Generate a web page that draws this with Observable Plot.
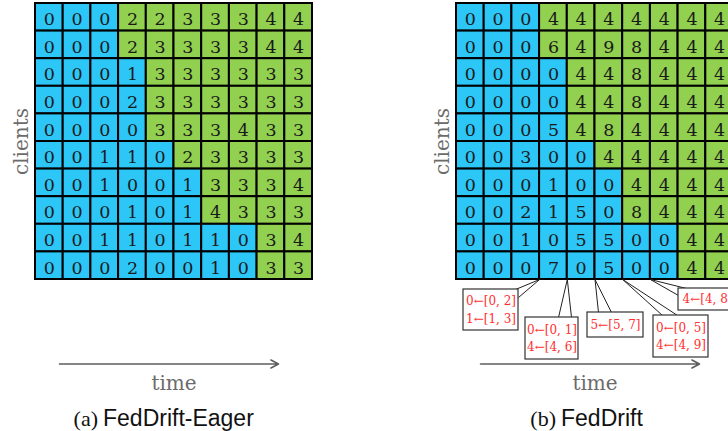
<!DOCTYPE html>
<html><head><meta charset="utf-8">
<script src="https://cdn.jsdelivr.net/npm/d3@7"></script>
<script src="https://cdn.jsdelivr.net/npm/@observablehq/plot@0.6"></script>
<style>
html,body{margin:0;padding:0;background:#fff;overflow:hidden;width:728px;height:431px}
#chart svg{overflow:hidden;display:block}
</style></head><body><div id="chart"></div>
<script>
// ---------- data ----------
const clients = d3.range(10);            // rows
const timeSteps = d3.range(10);          // columns
// first time step at which each client has drifted (green cells)
const driftStart = [3, 3, 4, 4, 4, 5, 6, 6, 8, 8];
// cluster identities, FedDrift-Eager
const eagerClusters = [
  [0,0,0,2,2,3,3,3,4,4],
  [0,0,0,2,3,3,3,3,4,4],
  [0,0,0,1,3,3,3,3,3,3],
  [0,0,0,2,3,3,3,3,3,3],
  [0,0,0,0,3,3,3,4,3,3],
  [0,0,1,1,0,2,3,3,3,3],
  [0,0,1,0,0,1,3,3,3,4],
  [0,0,0,1,0,1,4,3,3,3],
  [0,0,1,1,0,1,1,0,3,4],
  [0,0,0,2,0,0,1,0,3,3]
];
// cluster identities, FedDrift
const feddriftClusters = [
  [0,0,0,4,4,4,4,4,4,4],
  [0,0,0,6,4,9,8,4,4,4],
  [0,0,0,0,4,4,8,4,4,4],
  [0,0,0,0,4,4,8,4,4,4],
  [0,0,0,5,4,8,4,4,4,4],
  [0,0,3,0,0,4,4,4,4,4],
  [0,0,0,1,0,0,4,4,4,4],
  [0,0,2,1,5,0,8,4,4,4],
  [0,0,1,0,5,5,0,0,4,4],
  [0,0,0,7,0,5,0,0,4,4]
];
const panelTags = ["(a)", "(b)"];
const panelNames = ["FedDrift-Eager", "FedDrift"];
const yLabel = "clients";
const xLabel = "time";
// cluster merges in FedDrift, at the boundary before each time step
const mergeBoundary = [3, 4, 5, 6, 7];
const mergeLabels = [
  ["0←[0, 2]", "1←[1, 3]"],
  ["0←[0, 1]", "4←[4, 6]"],
  ["5←[5, 7]"],
  ["0←[0, 5]", "4←[4, 9]"],
  ["4←[4, 8]"]
];

// ---------- layout (pixels) ----------
const W = 728, H = 431;
const CW = 27.7, RH = 27.6;        // cell size
const GX = [35, 456], GY = 3;      // grid origins per panel
const ux = px => (px - GX[0]) / CW;
const uy = py => (py - GY) / RH;
const off = GX.map(g => (g - GX[0]) / CW);
const BLUE = "#2cc6f7", GREEN = "#92d050";
// callout boxes [x1,x2,y1,y2], tail base points
const boxLayout = [
  {b: [463, 518, 289, 330], base: [[515, 289], [518, 297]]},
  {b: [525, 578, 317, 359], base: [[558, 317], [571, 317]]},
  {b: [587, 643, 312, 337], base: [[598, 312], [611, 312]]},
  {b: [653, 708, 315, 357], base: [[662, 315], [677, 315]]},
  {b: [678, 738, 288, 310], base: [[686, 288], [678, 295]]}
];

// ---------- derived tables ----------
const cells = [];
[eagerClusters, feddriftClusters].forEach((m, p) => {
  clients.forEach(r => timeSteps.forEach(c => {
    cells.push({x1: off[p] + c, x2: off[p] + c + 1, y1: r, y2: r + 1,
      v: m[r][c], state: c >= driftStart[r] ? "drifted" : "original"});
  }));
});

const tails = [], boxes = [], boxText = [];
mergeBoundary.forEach((t, i) => {
  const L = boxLayout[i];
  const tip = {x: off[1] + t, y: clients.length};
  L.base.forEach(([bx, by]) => tails.push({x1: tip.x, y1: tip.y, x2: ux(bx), y2: uy(by)}));
  boxes.push({x1: ux(L.b[0]), x2: ux(L.b[1]), y1: uy(L.b[2]), y2: uy(L.b[3])});
  const cx = ux((L.b[0] + L.b[1]) / 2 + (i === 4 ? -1 : 0)), cyPx = (L.b[2] + L.b[3]) / 2;
  const n = mergeLabels[i].length;
  mergeLabels[i].forEach((s, k) => {
    boxText.push({x: cx, y: uy(cyPx + (k - (n - 1) / 2) * 17.5), s});
  });
});

const panels = [0, 1].map(p => ({
  p,
  tag: panelTags[p],
  name: panelNames[p],
  clientsX: off[p] + ux(21.5),
  arrowX1: off[p] + ux(59), arrowX2: off[p] + ux(278),
  timeX: off[p] + ux(173.5)
}));
const capSplit = [[97.5, 102.5], [555.5, 560.5]];

const chart = Plot.plot({
  width: W, height: H,
  margin: 0,
  style: {background: "#fff"},
  x: {domain: [ux(0), ux(W)], range: [0, W], axis: null},
  y: {domain: [uy(0), uy(H)], range: [0, H], axis: null},
  color: {domain: ["original", "drifted"], range: [BLUE, GREEN]},
  marks: [
    Plot.rect(cells, {x1: "x1", x2: "x2", y1: "y1", y2: "y2", fill: "state", stroke: "#000", strokeWidth: 2}),
    Plot.text(cells, {x: d => d.x1 + 0.5, y: d => d.y1 + 0.5, text: "v", dy: 2.3,
      fontFamily: "DejaVu Serif", fontSize: 17.5, fill: "#1a1a1a"}),
    // y label
    Plot.text(panels, {x: "clientsX", y: clients.length / 2, text: () => yLabel, rotate: -90,
      fontFamily: "DejaVu Serif", fontSize: 20, fill: "#6b6b6b"}),
    // time arrows
    Plot.arrow(panels, {x1: "arrowX1", x2: "arrowX2", y1: uy(363.5), y2: uy(363.5),
      stroke: "#5e5e5e", strokeWidth: 1.6, headLength: 8, headAngle: 56}),
    Plot.text(panels, {x: "timeX", y: uy(389), text: () => xLabel, lineAnchor: "bottom",
      fontFamily: "DejaVu Serif", fontSize: 20, fill: "#6b6b6b"}),
    // captions
    Plot.text(panels, {x: d => ux(capSplit[d.p][0]), y: uy(425), text: "tag", textAnchor: "end", lineAnchor: "bottom",
      fontFamily: "Liberation Serif", fontSize: 22, fill: "#111"}),
    Plot.text(panels, {x: d => ux(capSplit[d.p][1]), y: uy(425), text: "name", textAnchor: "start", lineAnchor: "bottom",
      fontFamily: "Liberation Sans", fontSize: 23, fill: "#111"}),
    // merge callouts
    Plot.link(tails, {x1: "x1", y1: "y1", x2: "x2", y2: "y2", stroke: "#222", strokeWidth: 1}),
    Plot.rect(boxes, {x1: "x1", x2: "x2", y1: "y1", y2: "y2", fill: "#fff", stroke: "#333", strokeWidth: 1.2}),
    Plot.text(boxText, {x: "x", y: "y", text: "s", fontFamily: "DejaVu Serif", fontSize: 12, fill: "#ff2f2f"})
  ]
});
document.getElementById("chart").append(chart);
</script></body></html>
